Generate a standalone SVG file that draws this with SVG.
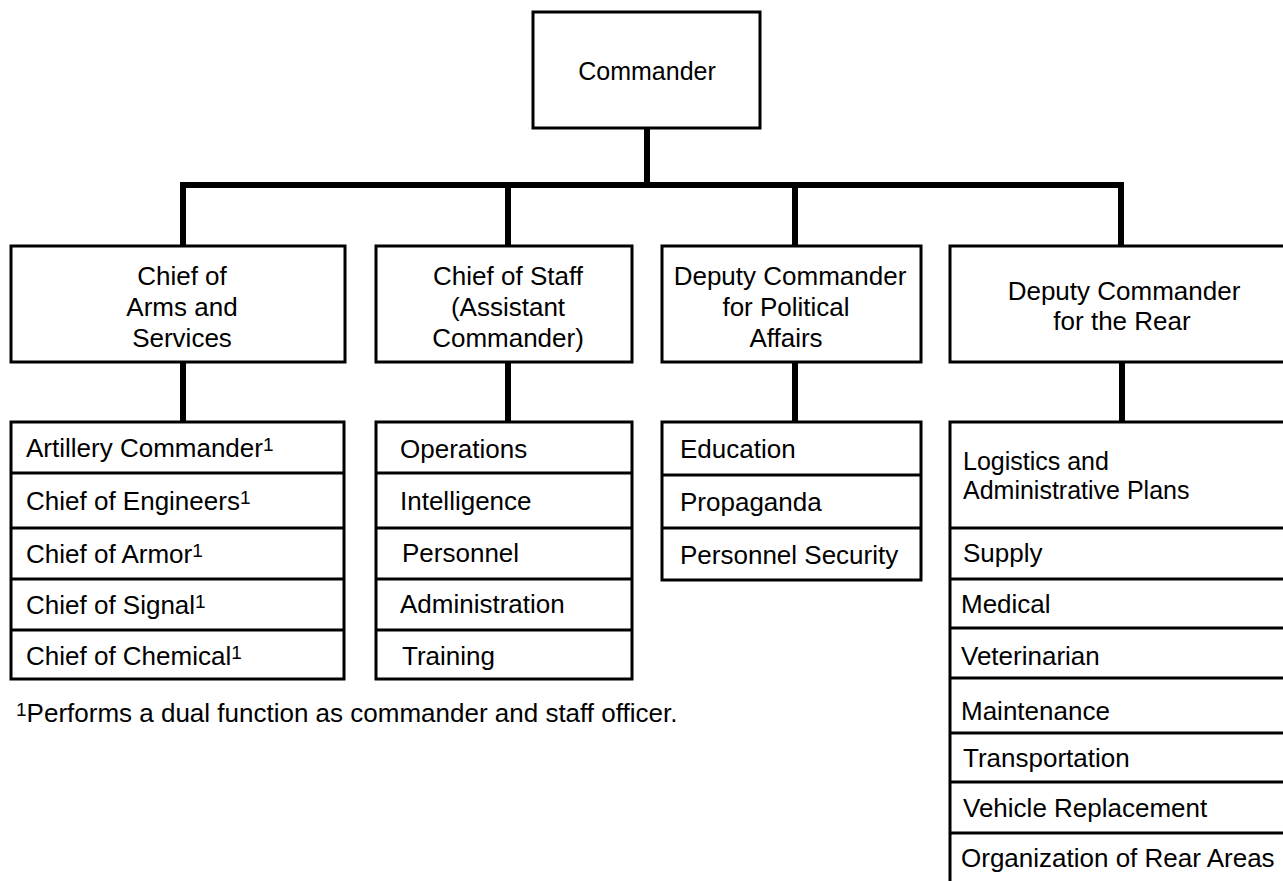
<svg xmlns="http://www.w3.org/2000/svg" width="1283" height="881" viewBox="0 0 1283 881">
<style>
  .box { fill: #fff; stroke: #000; stroke-width: 3; }
  .div { stroke: #000; stroke-width: 3; fill: none; }
  .conn { stroke: #000; stroke-width: 6; fill: none; stroke-linejoin: miter; }
  text { font-family: "Liberation Sans", Arial, sans-serif; font-size: 26px; fill: #000; }
  .c { text-anchor: middle; }
  .sup { font-size: 19px; }
</style>
<rect width="1283" height="881" fill="#fff"/>

<g id="connectors">
  <line class="conn" x1="647" y1="128" x2="647" y2="185"/>
  <path class="conn" d="M183,246 V185 H1121 V246"/>
  <line class="conn" x1="508" y1="185" x2="508" y2="246"/>
  <line class="conn" x1="795" y1="185" x2="795" y2="246"/>
  <line class="conn" x1="183" y1="362" x2="183" y2="422"/>
  <line class="conn" x1="508" y1="362" x2="508" y2="422"/>
  <line class="conn" x1="795" y1="362" x2="795" y2="422"/>
  <line class="conn" x1="1122" y1="362" x2="1122" y2="422"/>
</g>

<g id="commander">
  <rect class="box" x="533" y="12" width="227" height="116"/>
  <text class="c" x="647" y="80" style="font-size:25px">Commander</text>
</g>

<g id="chief-arms">
  <rect class="box" x="11" y="246" width="334" height="116"/>
  <text class="c" x="182" y="285">Chief of</text>
  <text class="c" x="182" y="316">Arms and</text>
  <text class="c" x="182" y="347">Services</text>
</g>

<g id="chief-staff">
  <rect class="box" x="376" y="246" width="256" height="116"/>
  <text class="c" x="508" y="285">Chief of Staff</text>
  <text class="c" x="508" y="316">(Assistant</text>
  <text class="c" x="508" y="347">Commander)</text>
</g>

<g id="deputy-political">
  <rect class="box" x="662" y="246" width="259" height="116"/>
  <text class="c" x="790" y="285">Deputy Commander</text>
  <text class="c" x="786" y="316">for Political</text>
  <text class="c" x="786" y="347">Affairs</text>
</g>

<g id="deputy-rear">
  <rect class="box" x="950" y="246" width="345" height="116"/>
  <text class="c" x="1124" y="300">Deputy Commander</text>
  <text class="c" x="1122" y="330">for the Rear</text>
</g>

<g id="arms-services-list">
  <rect class="box" x="11" y="422" width="333" height="257"/>
  <line class="div" x1="11" y1="473" x2="344" y2="473"/>
  <line class="div" x1="11" y1="528" x2="344" y2="528"/>
  <line class="div" x1="11" y1="579" x2="344" y2="579"/>
  <line class="div" x1="11" y1="630" x2="344" y2="630"/>
  <text x="26" y="457">Artillery Commander<tspan class="sup" dy="-6">1</tspan></text>
  <text x="26" y="510">Chief of Engineers<tspan class="sup" dy="-6">1</tspan></text>
  <text x="26" y="563">Chief of Armor<tspan class="sup" dy="-6">1</tspan></text>
  <text x="26" y="614">Chief of Signal<tspan class="sup" dy="-6">1</tspan></text>
  <text x="26" y="665">Chief of Chemical<tspan class="sup" dy="-6">1</tspan></text>
</g>

<g id="staff-list">
  <rect class="box" x="376" y="422" width="256" height="257"/>
  <line class="div" x1="376" y1="473" x2="632" y2="473"/>
  <line class="div" x1="376" y1="528" x2="632" y2="528"/>
  <line class="div" x1="376" y1="579" x2="632" y2="579"/>
  <line class="div" x1="376" y1="630" x2="632" y2="630"/>
  <text x="400" y="458">Operations</text>
  <text x="400" y="510">Intelligence</text>
  <text x="402" y="562">Personnel</text>
  <text x="400" y="613">Administration</text>
  <text x="402" y="665">Training</text>
</g>

<g id="political-list">
  <rect class="box" x="662" y="422" width="259" height="158"/>
  <line class="div" x1="662" y1="475" x2="921" y2="475"/>
  <line class="div" x1="662" y1="528" x2="921" y2="528"/>
  <text x="680" y="458">Education</text>
  <text x="680" y="511">Propaganda</text>
  <text x="680" y="564">Personnel Security</text>
</g>

<g id="rear-list">
  <rect class="box" x="950" y="422" width="345" height="480"/>
  <line class="div" x1="950" y1="528" x2="1290" y2="528"/>
  <line class="div" x1="950" y1="579" x2="1290" y2="579"/>
  <line class="div" x1="950" y1="628" x2="1290" y2="628"/>
  <line class="div" x1="950" y1="678" x2="1290" y2="678"/>
  <line class="div" x1="950" y1="733" x2="1290" y2="733"/>
  <line class="div" x1="950" y1="782" x2="1290" y2="782"/>
  <line class="div" x1="950" y1="833" x2="1290" y2="833"/>
  <text x="963" y="470" style="font-size:25px">Logistics and</text>
  <text x="963" y="499" style="font-size:25px">Administrative Plans</text>
  <text x="963" y="562">Supply</text>
  <text x="961" y="613">Medical</text>
  <text x="961" y="665">Veterinarian</text>
  <text x="961" y="720">Maintenance</text>
  <text x="963" y="767">Transportation</text>
  <text x="963" y="817">Vehicle Replacement</text>
  <text x="961" y="867">Organization of Rear Areas</text>
</g>

<g id="footnote">
  <text x="16" y="722"><tspan class="sup" dy="-6">1</tspan><tspan dy="6">Performs a dual function as commander and staff officer.</tspan></text>
</g>
</svg>
